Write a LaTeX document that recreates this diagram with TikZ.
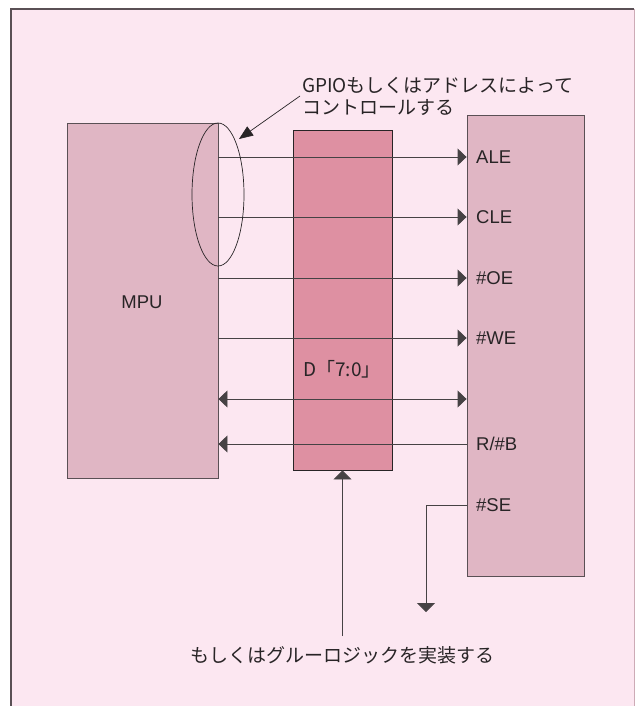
\documentclass[tikz,border=0pt]{standalone}
\usepackage{fontspec}
\setmainfont{Liberation Sans}
\newfontfamily\jp{Noto Sans CJK JP}
\usetikzlibrary{arrows.meta,shapes.geometric,calc}
\definecolor{bgpink}{RGB}{252,231,241}
\definecolor{boxpink}{RGB}{224,182,196}
\definecolor{midpink}{RGB}{222,144,162}
\definecolor{framegray}{RGB}{90,80,85}
\definecolor{linegray}{RGB}{70,66,68}
\definecolor{ink}{RGB}{40,36,38}
\tikzset{
  chip/.style={draw=framegray, line width=0.9pt, fill=boxpink, inner sep=0pt},
  databox/.style={draw=ink, line width=0.9pt, fill=midpink, inner sep=0pt},
  sig/.style={draw=linegray, line width=0.9pt},
  tipr/.style={-{Triangle[length=9pt,width=17pt]}},
  tipud/.style={-{Triangle[length=9pt,width=18pt]}},
  lbl/.style={anchor=west, inner sep=0pt, text=ink, font=\fontsize{18.5}{22}\selectfont},
  jlbl/.style={inner sep=0pt, text=ink, font=\jp\fontsize{19}{22}\selectfont}
}
\begin{document}
\begin{tikzpicture}[x=1pt,y=-1pt]
\useasboundingbox (0,0) rectangle (635,706);
\fill[white] (0,0) rectangle (635,706);
\fill[bgpink] (11,9) rectangle (634,706);
\draw[framegray, line width=1.2pt] (11,706) -- (11,9) -- (634,9);
\draw[boxpink!80!gray, line width=0.8pt] (634,9) -- (634,706);

% boxes
\node[chip, minimum width=151pt, minimum height=355pt] (mpu) at (142.5,300.5) {};
\node[databox, minimum width=99pt, minimum height=340pt] (data) at (342.5,300) {};
\node[chip, minimum width=117pt, minimum height=461pt] (mem) at (525.5,345.5) {};

\node[lbl, anchor=center] (mpulbl) at (142,302) {MPU};
\node[jlbl] (dlbl) at (342,369) {D「7:0」};

% pin labels
\node[lbl] (ale) at (476,157) {ALE};
\node[lbl] (cle) at (476,217) {CLE};
\node[lbl] (oe) at (476,278) {\#OE};
\node[lbl] (we) at (476,338) {\#WE};
\coordinate (dq) at (476,399);
\node[lbl] (rb) at (476,444) {R/\#B};
\node[lbl] (se) at (476,505) {\#SE};

% signals
\draw[sig, tipr] (mpu.east |- ale) -- (mem.west |- ale);
\draw[sig, tipr] (mpu.east |- cle) -- (mem.west |- cle);
\draw[sig, tipr] (mpu.east |- oe) -- (mem.west |- oe);
\draw[sig, tipr] (mpu.east |- we) -- (mem.west |- we);
\draw[sig, {Triangle[length=9pt,width=17pt]}-{Triangle[length=9pt,width=17pt]}] (mpu.east |- dq) -- (mem.west |- dq);
\draw[sig, tipr] (mem.west |- rb) -- (mpu.east |- rb);

\coordinate (sedown) at (426,612);
\draw[sig, tipud] (mem.west |- se) -- (sedown |- se) -- (sedown);

% ellipse
\node[draw=ink, line width=0.7pt, ellipse, minimum width=52pt, minimum height=143pt, inner sep=0pt] (ell) at (218,194.5) {};

% callout
\node[jlbl, anchor=west, align=left] (gpio) at (302,96) {GPIOもしくはアドレスによって\\コントロールする};
\coordinate (ctip) at (239,139);
\draw[ink, line width=0.7pt, -{Triangle[length=14pt,width=11pt]}] (gpio.west) ++(-2,0) -- (ctip);

% bottom note
\node[jlbl] (glue) at (342,655) {もしくはグルーロジックを実装する};
\draw[sig, tipud] (glue.north -| data.south) ++(0,-10) -- (data.south);
\end{tikzpicture}
\end{document}
